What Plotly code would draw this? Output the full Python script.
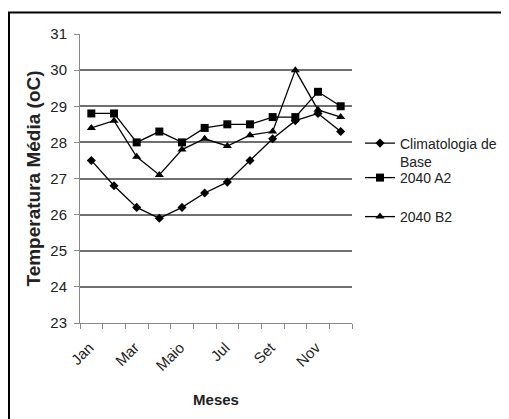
import plotly.graph_objects as go

months = ["Jan", "Fev", "Mar", "Abr", "Maio", "Jun", "Jul", "Ago", "Set", "Out", "Nov", "Dez"]
tick_labels = ["Jan", "", "Mar", "", "Maio", "", "Jul", "", "Set", "", "Nov", ""]
clim_base = [27.5, 26.8, 26.2, 25.9, 26.2, 26.6, 26.9, 27.5, 28.1, 28.6, 28.8, 28.3]
a2_2040 = [28.8, 28.8, 28.0, 28.3, 28.0, 28.4, 28.5, 28.5, 28.7, 28.7, 29.4, 29.0]
b2_2040 = [28.4, 28.6, 27.6, 27.1, 27.8, 28.1, 27.9, 28.2, 28.3, 30.0, 28.9, 28.7]
y_ticks = [23, 24, 25, 26, 27, 28, 29, 30, 31]

SANS = "Liberation Sans, Arial, sans-serif"
TXT = "#222222"

# page has an 8px body margin; figure is sized to fit the 509x419 window
OFF = 8
W, H = 509 - OFF, 419 - OFF
L, T = 80 - OFF, 34 - OFF
pw, ph = 272, 289
R, B = W - L - pw, H - T - ph

def px_x(p):
    return (p - OFF - L) / pw

def px_y(p):
    return (T + ph - (p - OFF)) / ph

fig = go.Figure()
series = [
    ("Climatologia de<br>Base", clim_base, "diamond", 7, "legend"),
    ("2040 A2", a2_2040, "square", 8, "legend2"),
    ("2040 B2", b2_2040, "triangle-up", 8, "legend3"),
]
for name, vals, sym, sz, lg in series:
    fig.add_trace(go.Scatter(
        x=months, y=vals, name=name, mode="lines+markers",
        line=dict(color="black", width=1.3),
        marker=dict(symbol=sym, size=sz, color="black"),
        legend=lg,
    ))

leg_common = dict(
    xanchor="left", yanchor="middle", valign="top",
    font=dict(family=SANS, size=14, color=TXT),
    bgcolor="rgba(0,0,0,0)", borderwidth=0,
)

fig.update_layout(
    width=W, height=H,
    margin=dict(l=L, r=R, t=T, b=B, autoexpand=False),
    paper_bgcolor="white", plot_bgcolor="white",
    font=dict(family=SANS, size=15, color=TXT),
    showlegend=True,
    legend=dict(x=px_x(360), y=px_y(152.5), **leg_common),
    legend2=dict(x=px_x(360), y=px_y(178), **leg_common),
    legend3=dict(x=px_x(360), y=px_y(217), **leg_common),
    xaxis=dict(
        type="category", categoryorder="array", categoryarray=months,
        tickmode="array", tickvals=months, ticktext=tick_labels,
        tickangle=-45, tickson="boundaries",
        ticks="outside", ticklen=5, tickcolor="#888888", tickwidth=1,
        ticklabelstandoff=9, ticklabelshift=-2,
        showline=True, linecolor="#888888", linewidth=1,
        showgrid=False, zeroline=False,
        range=[-0.5, 11.5],
        tickfont=dict(family=SANS, size=15, color=TXT),
        title=dict(text="<b>Meses</b>", font=dict(family=SANS, size=15, color=TXT), standoff=21),
    ),
    yaxis=dict(
        range=[23, 31], tickmode="array", tickvals=y_ticks,
        ticks="outside", ticklen=5, tickcolor="#888888", tickwidth=1,
        ticklabelstandoff=4,
        showline=True, linecolor="#888888", linewidth=1,
        showgrid=True, gridcolor="#707070", gridwidth=1.6,
        zeroline=False,
        tickfont=dict(family=SANS, size=15, color=TXT),
        title=dict(text="<b>Temperatura Média (oC)</b>", font=dict(family=SANS, size=19, color=TXT), standoff=4),
    ),
    shapes=[
        dict(type="line", xref="paper", yref="paper",
             x0=px_x(8.5), x1=px_x(8.5), y0=px_y(12), y1=px_y(419), line=dict(color="black", width=3)),
        dict(type="line", xref="paper", yref="paper",
             x0=px_x(7), x1=px_x(509), y0=px_y(12.5), y1=px_y(12.5), line=dict(color="black", width=2)),
    ],
)

fig.write_html("out.html")
